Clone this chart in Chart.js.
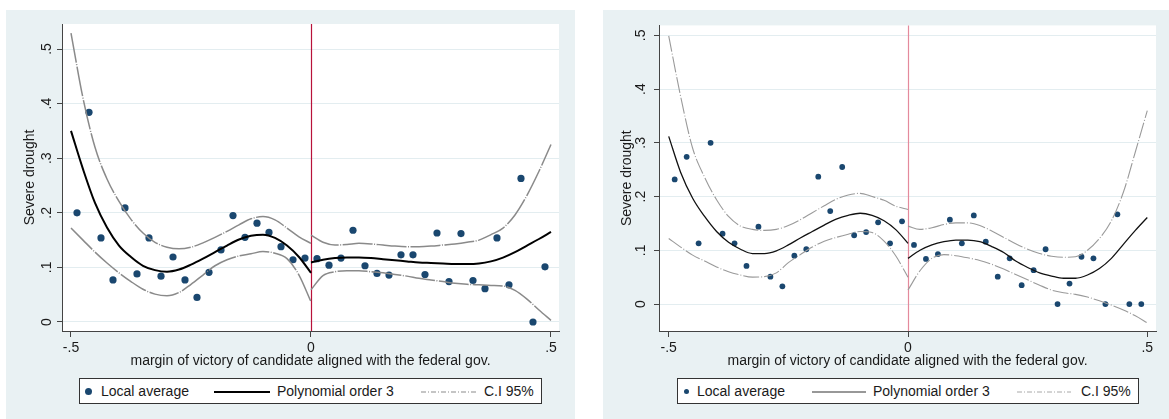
<!DOCTYPE html>
<html><head><meta charset="utf-8">
<script src="https://cdn.jsdelivr.net/npm/chart.js@4.4.1/dist/chart.umd.min.js"></script>
<style>
html,body{margin:0;padding:0;background:#fff;width:1169px;height:419px;overflow:hidden;font-family:"Liberation Sans",Arial,sans-serif;}
.panel{position:absolute;background:#e9f1f3;}
.panel canvas{position:absolute;left:0;top:0;}
.legend{position:absolute;background:#fff;border:1px solid #333;box-sizing:border-box;height:26px;}
.legend span{position:absolute;font-size:14px;color:#1a1a1a;line-height:16px;top:4px;white-space:nowrap;}
.legend .dot{position:absolute;border-radius:50%;background:#1a476f;}
.legend svg{position:absolute;top:11px;}
</style>
</head><body>
<div class="panel" id="p1" style="left:6px;top:10px;width:569px;height:409px;">
  <canvas id="c1" width="569" height="360"></canvas>
  <div class="legend" style="left:73px;top:368px;width:463px;">
    <div class="dot" style="left:5px;top:8.5px;width:7px;height:7px;"></div>
    <span style="left:21px;">Local average</span>
    <svg style="left:134px" width="56" height="4"><line x1="0" y1="2" x2="56" y2="2" stroke="#000" stroke-width="2"/></svg>
    <span style="left:197px;">Polynomial order 3</span>
    <svg style="left:341px" width="56" height="4"><line x1="0" y1="2" x2="56" y2="2" stroke="#8c8c8c" stroke-width="1.2" stroke-dasharray="5,2,1,2"/></svg>
    <span style="left:404px;">C.I 95%</span>
  </div>
</div>
<div class="panel" id="p2" style="left:603px;top:10px;width:566px;height:409px;">
  <canvas id="c2" width="566" height="360"></canvas>
  <div class="legend" style="left:74px;top:368px;width:462px;">
    <div class="dot" style="left:5.5px;top:9.5px;width:5.5px;height:5.5px;"></div>
    <span style="left:19px;">Local average</span>
    <svg style="left:134px" width="54" height="4"><line x1="0" y1="2" x2="54" y2="2" stroke="#333" stroke-width="1.2"/></svg>
    <span style="left:195px;">Polynomial order 3</span>
    <svg style="left:339px" width="54" height="4"><line x1="0" y1="2" x2="54" y2="2" stroke="#a8a8a8" stroke-width="1" stroke-dasharray="5,2,1,2"/></svg>
    <span style="left:403px;">C.I 95%</span>
  </div>
</div>
<script>
// ---------- data ----------
const xTickVals = [-0.5, 0, 0.5];
const yTickVals = [0, 0.1, 0.2, 0.3, 0.4, 0.5];
const cutoff = 0;
const xTitle = 'margin of victory of candidate aligned with the federal gov.';
const yTitle = 'Severe drought';

const binX = [-0.4875,-0.4625,-0.4375,-0.4125,-0.3875,-0.3625,-0.3375,-0.3125,-0.2875,-0.2625,
  -0.2375,-0.2125,-0.1875,-0.1625,-0.1375,-0.1125,-0.0875,-0.0625,-0.0375,-0.0125,
  0.0125,0.0375,0.0625,0.0875,0.1125,0.1375,0.1625,0.1875,0.2125,0.2375,
  0.2625,0.2875,0.3125,0.3375,0.3625,0.3875,0.4125,0.4375,0.4625,0.4875];

const fitXLeft = [-0.5,-0.475,-0.45,-0.425,-0.4,-0.375,-0.35,-0.325,-0.3,-0.275,-0.25,
  -0.225,-0.2,-0.175,-0.15,-0.125,-0.1,-0.075,-0.05,-0.025,0];
const fitXRight = [0,0.025,0.05,0.075,0.1,0.125,0.15,0.175,0.2,0.225,0.25,
  0.275,0.3,0.325,0.35,0.375,0.4,0.425,0.45,0.475,0.5];

// Panel 1
const p1Avg = [0.200,0.384,0.154,0.077,0.209,0.088,0.154,0.084,0.119,0.077,
  0.045,0.091,0.132,0.195,0.155,0.181,0.164,0.138,0.114,0.117,
  0.116,0.104,0.117,0.168,0.103,0.089,0.086,0.123,0.123,0.087,
  0.163,0.074,0.162,0.076,0.061,0.154,0.068,0.263,0.000,0.101];
const p1FitL = [0.350,0.280,0.218,0.173,0.140,0.119,0.103,0.095,0.092,0.096,0.105,
  0.116,0.128,0.140,0.151,0.158,0.160,0.154,0.140,0.119,0.090];
const p1FitR = [0.109,0.114,0.117,0.118,0.118,0.117,0.115,0.113,0.111,0.109,0.108,
  0.107,0.106,0.106,0.107,0.111,0.118,0.128,0.140,0.152,0.165];
const p1UpL = [0.529,0.410,0.320,0.262,0.221,0.188,0.163,0.146,0.137,0.134,0.137,
  0.145,0.155,0.166,0.178,0.189,0.193,0.187,0.172,0.156,0.144];
const p1UpR = [0.159,0.146,0.141,0.142,0.144,0.143,0.141,0.139,0.138,0.138,0.139,
  0.141,0.143,0.146,0.150,0.160,0.172,0.196,0.232,0.276,0.325];
const p1LoL = [0.172,0.150,0.128,0.108,0.090,0.074,0.060,0.051,0.048,0.054,0.069,
  0.086,0.103,0.114,0.121,0.125,0.129,0.126,0.116,0.086,0.037];
const p1LoR = [0.059,0.085,0.092,0.094,0.094,0.092,0.090,0.087,0.084,0.080,0.077,
  0.074,0.071,0.069,0.068,0.067,0.066,0.058,0.042,0.022,0.003];

// Panel 2
const p2Avg = [0.232,0.274,0.113,0.300,0.131,0.113,0.071,0.144,0.051,0.033,
  0.090,0.102,0.237,0.173,0.255,0.128,0.134,0.152,0.113,0.154,
  0.110,0.084,0.093,0.157,0.113,0.165,0.116,0.051,0.085,0.035,
  0.063,0.102,0.000,0.038,0.088,0.085,0.000,0.167,0.000,0.000];
const p2FitL = [0.312,0.245,0.197,0.163,0.135,0.115,0.102,0.094,0.094,0.099,0.110,
  0.123,0.135,0.147,0.158,0.165,0.169,0.165,0.155,0.138,0.113];
const p2FitR = [0.085,0.100,0.110,0.116,0.119,0.119,0.116,0.107,0.096,0.080,0.068,
  0.058,0.052,0.048,0.048,0.054,0.066,0.085,0.111,0.137,0.161];
const p2UpL = [0.499,0.386,0.290,0.236,0.194,0.163,0.145,0.139,0.137,0.139,0.146,
  0.157,0.170,0.183,0.195,0.203,0.206,0.200,0.193,0.182,0.176];
const p2UpR = [0.145,0.139,0.142,0.148,0.151,0.151,0.146,0.136,0.124,0.112,0.102,
  0.094,0.089,0.087,0.088,0.100,0.122,0.155,0.208,0.283,0.360];
const p2LoL = [0.122,0.106,0.091,0.080,0.069,0.060,0.054,0.050,0.051,0.058,0.077,
  0.092,0.106,0.117,0.124,0.130,0.135,0.133,0.117,0.089,0.050];
const p2LoR = [0.026,0.062,0.085,0.092,0.090,0.086,0.081,0.074,0.065,0.055,0.045,
  0.035,0.026,0.021,0.018,0.013,0.006,-0.002,-0.011,-0.022,-0.035];

// ---------- helpers ----------
const zip = (xs, ys) => xs.map((x, i) => ({x: x, y: ys[i]}));
const fmt = v => {
  if (Math.abs(v) < 1e-9) return '0';
  return (v < 0 ? '-' : '') + Math.abs(v).toFixed(1).replace(/^0/, '');
};

Chart.defaults.font.family = '"Liberation Sans", Arial, sans-serif';
Chart.defaults.font.size = 14;
Chart.defaults.color = '#1a1a1a';

const deco = {
  id: 'deco',
  beforeDraw(chart) {
    const a = chart.chartArea, ctx = chart.ctx;
    ctx.save(); ctx.fillStyle = '#ffffff';
    ctx.fillRect(a.left, a.top, a.right - a.left, a.bottom - a.top);
    ctx.restore();
  },
  beforeDatasetsDraw(chart, args, opts) {
    const a = chart.chartArea, ctx = chart.ctx;
    const px = Math.round(chart.scales.x.getPixelForValue(cutoff)) + 0.5;
    ctx.save(); ctx.strokeStyle = opts.color; ctx.lineWidth = opts.width;
    ctx.beginPath(); ctx.moveTo(px, a.top); ctx.lineTo(px, a.bottom); ctx.stroke();
    ctx.restore();
  }
};

function lineDs(xs, ys, color, width, dash) {
  return {data: zip(xs, ys), showLine: true, pointRadius: 0, borderColor: color,
    borderWidth: width, borderDash: dash || [], cubicInterpolationMode: 'monotone', fill: false};
}

function makeChart(id, s) {
  const ci = (ys) => lineDs(ys === s.upL || ys === s.loL ? fitXLeft : fitXRight, ys, s.ciColor, s.ciWidth, s.ciDash);
  new Chart(document.getElementById(id), {
    type: 'scatter',
    data: {datasets: [
      ci(s.upL), ci(s.upR), ci(s.loL), ci(s.loR),
      lineDs(fitXLeft, s.fitL, s.fitColor, s.fitWidth),
      lineDs(fitXRight, s.fitR, s.fitColor, s.fitWidth),
      {data: zip(binX, s.avg), showLine: false, pointRadius: s.ptR, pointHoverRadius: s.ptR,
       pointBackgroundColor: '#1a476f', pointBorderWidth: 0, borderWidth: 0}
    ]},
    options: {
      responsive: false, animation: false, devicePixelRatio: 1, events: [],
      layout: {padding: {left: 0, top: s.padTop, right: s.padRight, bottom: 0}},
      plugins: {legend: {display: false}, tooltip: {enabled: false},
        deco: {color: s.cutColor, width: s.cutWidth}},
      scales: {
        x: {type: 'linear', min: s.xmin, max: s.xmax,
          afterBuildTicks: sc => { sc.ticks = xTickVals.map(v => ({value: v})); },
          afterFit: sc => { sc.height = 39; },
          ticks: {callback: fmt, autoSkip: false, minRotation: 0, maxRotation: 0, padding: 3},
          grid: {drawOnChartArea: false, drawTicks: true, tickLength: 6, tickColor: '#444', lineWidth: 1},
          border: {display: true, color: '#444', width: 1},
          title: {display: true, text: xTitle, padding: {top: 0, bottom: 0}}
        },
        y: {type: 'linear', min: s.ymin, max: s.ymax,
          afterBuildTicks: sc => { sc.ticks = yTickVals.map(v => ({value: v})); },
          afterFit: sc => { sc.width = 56; },
          ticks: {callback: fmt, autoSkip: false, minRotation: 90, maxRotation: 90,
            crossAlign: 'center', padding: s.yTickPad},
          grid: {color: '#e3edf0', tickColor: '#444', tickLength: 5, lineWidth: 1},
          border: {display: true, color: '#444', width: 1},
          title: {display: true, text: yTitle, padding: {top: 16, bottom: 0}}
        }
      }
    },
    plugins: [deco]
  });
}

makeChart('c1', {avg: p1Avg, fitL: p1FitL, fitR: p1FitR, upL: p1UpL, upR: p1UpR, loL: p1LoL, loR: p1LoR,
  xmin: -0.51875, xmax: 0.5167, ymin: -0.0165, ymax: 0.5458, padTop: 14, padRight: 16, yTickPad: 4,
  ciColor: '#8a8a8a', ciWidth: 1.5, ciDash: [30, 1.5, 1, 1.5], fitColor: '#000000', fitWidth: 2,
  ptR: 3.6, cutColor: '#b8123a', cutWidth: 1.2});
makeChart('c2', {avg: p2Avg, fitL: p2FitL, fitR: p2FitR, upL: p2UpL, upR: p2UpR, loL: p2LoL, loR: p2LoR,
  xmin: -0.5203, xmax: 0.5182, ymin: -0.0502, ymax: 0.5186, padTop: 15, padRight: 13, yTickPad: 7,
  ciColor: '#9a9a9a', ciWidth: 1.1, ciDash: [16, 2, 1, 2], fitColor: '#111111', fitWidth: 1.3,
  ptR: 2.9, cutColor: '#e48a9c', cutWidth: 1.2});
</script>
</body></html>
